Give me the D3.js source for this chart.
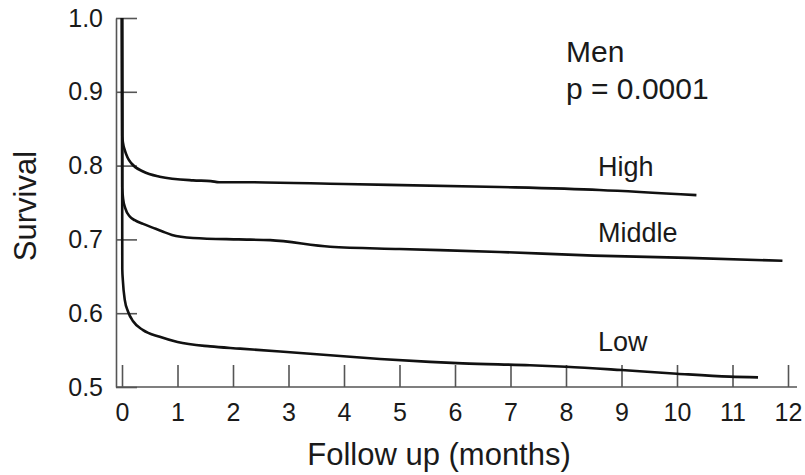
<!DOCTYPE html>
<html>
<head>
<meta charset="utf-8">
<script src="https://cdn.jsdelivr.net/npm/d3@7"></script>
<style>
  body { margin: 0; background: #fff; }
  text { font-family: 'Liberation Sans', Arial, sans-serif; fill: #1a1a1a; }
</style>
</head>
<body>
<div id="chart"></div>
<script>
// follow up in months and survival
const highT = [0, 0.005, 0.02, 0.05, 0.1, 0.17, 0.38, 0.68, 1.28, 1.6, 1.75, 2.13, 4.0, 6.8, 8.6, 10.35]
const highS = [1.0, 0.84, 0.83, 0.821, 0.811, 0.803, 0.792, 0.785, 0.78, 0.779, 0.7775, 0.7775, 0.775, 0.771, 0.767, 0.76]

const middleT = [0, 0.005, 0.02, 0.06, 0.14, 0.23, 0.38, 0.55, 0.72, 0.9, 1.28, 2.1, 2.67, 3.75, 5, 6.8, 8.5, 10.2, 11.9]
const middleS = [1.0, 0.77, 0.755, 0.742, 0.731, 0.726, 0.721, 0.716, 0.711, 0.706, 0.702, 0.7, 0.699, 0.69, 0.687, 0.683, 0.678, 0.675, 0.671]

const lowT = [0, 0.005, 0.015, 0.05, 0.11, 0.2, 0.38, 0.68, 1.0, 1.59, 2.13, 2.85, 3.75, 4.65, 5.55, 6.14, 7.35, 8.0, 9.0, 10.0, 10.95, 11.46]
const lowS = [1.0, 0.66, 0.645, 0.618, 0.602, 0.589, 0.577, 0.568, 0.561, 0.555, 0.552, 0.548, 0.543, 0.538, 0.534, 0.532, 0.5295, 0.5275, 0.523, 0.518, 0.514, 0.513]

const groups = ['High', 'Middle', 'Low']
const xTicks = [0, 1, 2, 3, 4, 5, 6, 7, 8, 9, 10, 11, 12]
const yTicks = [0.5, 0.6, 0.7, 0.8, 0.9, 1.0]

const series = [
  { name: 'High', t: highT, s: highS },
  { name: 'Middle', t: middleT, s: middleS },
  { name: 'Low', t: lowT, s: lowS },
]

const width = 805
const height = 475
const axisX = 116 // y axis sits a little left of month 0

const svg = d3
  .select('#chart')
  .append('svg')
  .attr('width', width)
  .attr('height', height)

const x = d3.scaleLinear().domain([0, 12]).range([122, 788])
const y = d3.scaleLinear().domain([0.5, 1.0]).range([387, 18])

const axisColor = '#555'

// y axis, ticks pointing into the plot
const yAxis = svg
  .append('g')
  .attr('transform', 'translate(' + axisX + ',0)')
  .call(
    d3
      .axisLeft(y)
      .tickValues(yTicks)
      .tickFormat(d3.format('.1f'))
      .tickSize(-21)
      .tickSizeOuter(0)
      .tickPadding(13)
  )
yAxis.select('.domain').attr('stroke', axisColor).attr('stroke-width', 1.6)
yAxis.selectAll('.tick line').attr('stroke', axisColor).attr('stroke-width', 1.6)
yAxis
  .selectAll('.tick text')
  .attr('font-size', '25px')
  .attr('font-family', "'Liberation Sans', Arial, sans-serif")
  .attr('fill', '#1a1a1a')

// x axis, ticks pointing up
const xAxis = svg
  .append('g')
  .attr('transform', 'translate(0,' + y(0.5) + ')')
  .call(
    d3
      .axisBottom(x)
      .tickValues(xTicks)
      .tickSize(-22)
      .tickSizeOuter(0)
      .tickPadding(16)
  )
xAxis.select('.domain').remove()
xAxis.selectAll('.tick line').attr('stroke', axisColor).attr('stroke-width', 1.6)
xAxis
  .selectAll('.tick text')
  .attr('font-size', '25px')
  .attr('font-family', "'Liberation Sans', Arial, sans-serif")
  .attr('fill', '#1a1a1a')

// baseline runs from the y axis to just past month 12
svg
  .append('line')
  .attr('x1', axisX)
  .attr('x2', x(12) + 9)
  .attr('y1', y(0.5))
  .attr('y2', y(0.5))
  .attr('stroke', axisColor)
  .attr('stroke-width', 1.6)

// survival curves
const line = d3
  .line()
  .x((d) => x(d[0]))
  .y((d) => y(d[1]))
  .curve(d3.curveMonotoneX)

series.forEach((sr) => {
  const pts = sr.t.map((t, i) => [t, sr.s[i]])
  svg
    .append('path')
    .datum(pts)
    .attr('d', line)
    .attr('fill', 'none')
    .attr('stroke', '#111')
    .attr('stroke-width', 2.6)
    .attr('stroke-linejoin', 'round')
})

// group labels
const labelY = { High: 176, Middle: 242, Low: 351 }
groups.forEach((g) => {
  svg
    .append('text')
    .attr('x', 598)
    .attr('y', labelY[g])
    .attr('font-size', '27px')
    .text(g)
})

svg.append('text').attr('x', 566).attr('y', 62).attr('font-size', '30px').text('Men')
svg.append('text').attr('x', 566).attr('y', 99).attr('font-size', '30px').text('p = 0.0001')

// axis titles
svg
  .append('text')
  .attr('x', 439)
  .attr('y', 465)
  .attr('text-anchor', 'middle')
  .attr('font-size', '31px')
  .text('Follow up (months)')

svg
  .append('text')
  .attr('transform', 'translate(36,206) rotate(-90)')
  .attr('text-anchor', 'middle')
  .attr('font-size', '31px')
  .text('Survival')
</script>
</body>
</html>
